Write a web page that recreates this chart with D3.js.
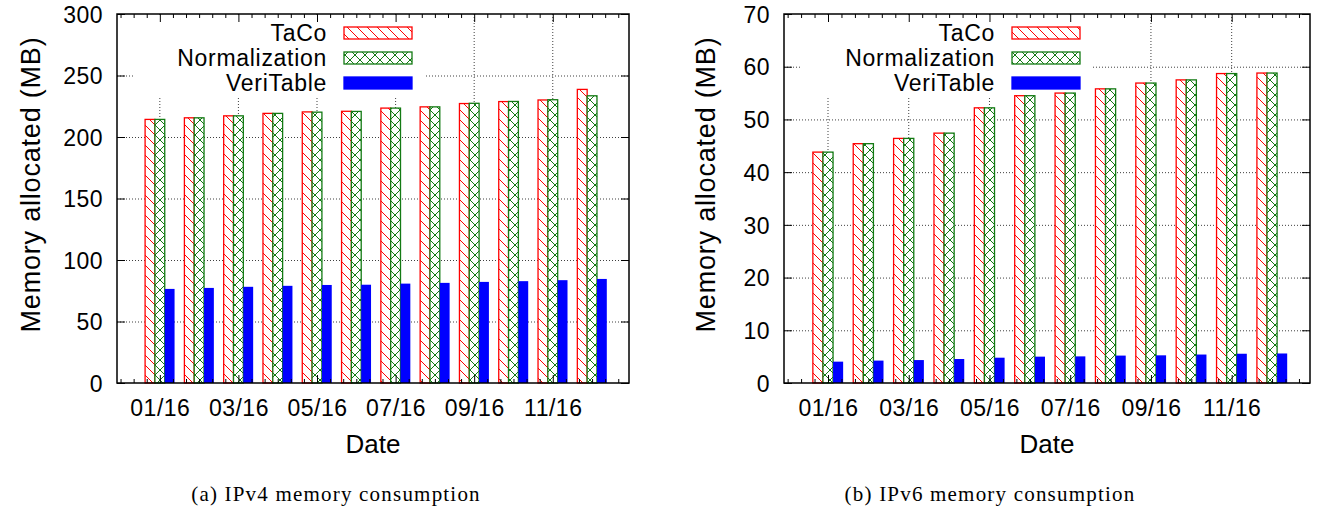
<!DOCTYPE html>
<html>
<head>
<meta charset="utf-8">
<script src="https://cdn.jsdelivr.net/npm/d3@7"></script>
<style>
  html, body { margin: 0; padding: 0; background: #fff; }
  svg text { fill: #000; }
</style>
</head>
<body>
<svg id="fig" width="1319" height="513"></svg>
<script>
// Months covered by the measurements
const months = ["01/16", "02/16", "03/16", "04/16", "05/16", "06/16",
                "07/16", "08/16", "09/16", "10/16", "11/16", "12/16"];
// Labelled months on the date axis (every other month)
const xTickLabels = ["01/16", "03/16", "05/16", "07/16", "09/16", "11/16"];
const seriesNames = ["TaCo", "Normalization", "VeriTable"];

// IPv4 memory allocated (MB)
const ipv4TaCo          = [214.3, 215.6, 217.2, 219.2, 220.4, 220.9, 223.5, 224.5, 227.2, 228.8, 230.1, 238.7];
const ipv4Normalization = [214.3, 215.6, 217.2, 219.2, 220.2, 220.8, 223.5, 224.5, 227.4, 228.9, 230.3, 233.5];
const ipv4VeriTable     = [76.5, 77.3, 78.2, 79.0, 79.7, 79.9, 80.8, 81.4, 82.2, 82.8, 83.6, 84.6];
const ipv4YTicks        = [0, 50, 100, 150, 200, 250, 300];

// IPv6 memory allocated (MB)
const ipv6TaCo          = [43.8, 45.4, 46.4, 47.4, 52.2, 54.5, 55.0, 55.8, 56.9, 57.5, 58.7, 58.8];
const ipv6Normalization = [43.8, 45.4, 46.4, 47.4, 52.2, 54.5, 55.0, 55.8, 56.9, 57.5, 58.7, 58.8];
const ipv6VeriTable     = [4.05, 4.25, 4.35, 4.55, 4.8, 5.0, 5.05, 5.2, 5.25, 5.4, 5.55, 5.6];
const ipv6YTicks        = [0, 10, 20, 30, 40, 50, 60, 70];

const captions = ["(a) IPv4 memory consumption", "(b) IPv6 memory consumption"];

const svg = d3.select("#fig");
const SANS = "'Liberation Sans', Arial, Helvetica, sans-serif";
const SERIF = "'Liberation Serif', 'Times New Roman', serif";

// Fill patterns: red back-diagonal hatch and green cross-hatch
const defs = svg.append("defs");
const hatch = defs.append("pattern").attr("id", "hatchRed")
  .attr("patternUnits", "userSpaceOnUse").attr("width", 10).attr("height", 10);
hatch.append("rect").attr("width", 10).attr("height", 10).attr("fill", "#fff");
hatch.append("path").attr("d", "M0,0L10,10M-1,9L1,11M9,-1L11,1")
  .attr("stroke", "#ff0000").attr("stroke-width", 1);
const cross = defs.append("pattern").attr("id", "crossGreen")
  .attr("patternUnits", "userSpaceOnUse").attr("width", 10).attr("height", 10);
cross.append("rect").attr("width", 10).attr("height", 10).attr("fill", "#fff");
cross.append("path").attr("d", "M0,0L10,10M0,10L10,0M-1,9L1,11M9,-1L11,1M-1,1L1,-1M9,11L11,9")
  .attr("stroke", "#137a13").attr("stroke-width", 1);

const styles = [
  { fill: "url(#hatchRed)", stroke: "#ff0000" },
  { fill: "url(#crossGreen)", stroke: "#137a13" },
  { fill: "#0000ff", stroke: "#0000ff" }
];

function drawPanel(cfg) {
  const { left, right, top, bottom, series, yTicks, caption, captionX, ylabelX, keyTextX } = cfg;
  const g = svg.append("g");
  const width = right - left;

  const x = d3.scaleLinear().domain([-1.09, 11.94]).range([left, right]);
  const y = d3.scaleLinear().domain([yTicks[0], yTicks[yTicks.length - 1]]).range([bottom, top]);
  const majorIdx = xTickLabels.map(l => months.indexOf(l));
  const minorIdx = d3.range(-3, 36).map(k => k / 3).filter(v => v > -1.09 && v < 11.94 && Math.abs(v - Math.round(v / 2) * 2) > 1e-6);

  // Dotted grid
  const grid = g.append("g").attr("stroke", "#000").attr("stroke-width", 1)
    .attr("stroke-dasharray", "1,2").attr("opacity", 0.75);
  grid.selectAll("line.h").data(yTicks.slice(1, -1)).join("line").attr("class", "h")
    .attr("x1", left).attr("x2", right).attr("y1", d => y(d) + 0.5).attr("y2", d => y(d) + 0.5);
  grid.selectAll("line.v").data(majorIdx).join("line").attr("class", "v")
    .attr("x1", d => x(d)).attr("x2", d => x(d)).attr("y1", top).attr("y2", bottom);

  // Key with opaque background
  const keyG = g.append("g");
  keyG.append("rect").attr("x", keyTextX - 194).attr("y", top + 1)
    .attr("width", 292).attr("height", 82).attr("fill", "#fff");
  seriesNames.forEach((name, k) => {
    const cy = top + 19 + 25 * k;
    keyG.append("text").attr("x", keyTextX).attr("y", cy).attr("dy", "0.36em")
      .attr("text-anchor", "end").attr("font-family", SANS).attr("font-size", 23)
      .attr("letter-spacing", 0.7).text(name);
    keyG.append("rect").attr("x", keyTextX + 17).attr("y", cy - 6)
      .attr("width", 68).attr("height", 12)
      .attr("fill", styles[k].fill).attr("stroke", styles[k].stroke).attr("stroke-width", 1.3);
  });

  // Clustered bars: three per month, each a quarter of a month wide
  const bw = 0.25;
  series.forEach((vals, k) => {
    g.append("g").selectAll("rect").data(vals).join("rect")
      .attr("x", (d, i) => x(i - 0.375 + k * bw))
      .attr("width", x(bw) - x(0))
      .attr("y", d => y(d))
      .attr("height", d => y(yTicks[0]) - y(d))
      .attr("fill", styles[k].fill)
      .attr("stroke", styles[k].stroke)
      .attr("stroke-width", k === 2 ? 0 : 1.3);
  });

  // Axes: labelled left / bottom, mirrored ticks on right / top
  const yAxis = g.append("g").attr("transform", `translate(${left},0)`)
    .call(d3.axisLeft(y).tickValues(yTicks).tickSize(-8).tickPadding(14));
  g.append("g").attr("transform", `translate(${right},0)`)
    .call(d3.axisRight(y).tickValues(yTicks).tickSize(-8).tickFormat(""));
  const xAxis = g.append("g").attr("transform", `translate(0,${bottom})`)
    .call(d3.axisBottom(x).tickValues(majorIdx).tickSize(-8).tickPadding(17).tickFormat(i => months[i]));
  g.append("g").attr("transform", `translate(0,${bottom})`)
    .call(d3.axisBottom(x).tickValues(minorIdx).tickSize(-4).tickFormat(""));
  g.append("g").attr("transform", `translate(0,${top})`)
    .call(d3.axisTop(x).tickValues(majorIdx).tickSize(-8).tickFormat(""));
  g.append("g").attr("transform", `translate(0,${top})`)
    .call(d3.axisTop(x).tickValues(minorIdx).tickSize(-4).tickFormat(""));
  g.selectAll(".domain").remove();
  g.selectAll(".tick line").attr("stroke", "#000").attr("stroke-width", 1);
  g.selectAll(".tick text").attr("font-family", SANS).attr("font-size", 23)
    .attr("letter-spacing", 0.5).attr("fill", "#000");
  yAxis.selectAll(".tick text").attr("dy", "0.36em");

  // Frame
  g.append("rect").attr("x", left).attr("y", top).attr("width", width).attr("height", bottom - top)
    .attr("fill", "none").attr("stroke", "#000").attr("stroke-width", 1.5);

  // Axis titles
  g.append("text").attr("transform", `translate(${ylabelX},${(top + bottom) / 2 - 14}) rotate(-90)`)
    .attr("text-anchor", "middle").attr("dy", "0.36em")
    .attr("font-family", SANS).attr("font-size", 27).attr("letter-spacing", 0.8)
    .text("Memory allocated (MB)");
  g.append("text").attr("x", (left + right) / 2).attr("y", 453)
    .attr("text-anchor", "middle").attr("font-family", SANS).attr("font-size", 26)
    .text("Date");

  // Caption
  g.append("text").attr("x", captionX).attr("y", 501)
    .attr("text-anchor", "middle").attr("font-family", SERIF).attr("font-size", 21)
    .attr("letter-spacing", 1.2)
    .text(caption);
}

drawPanel({
  left: 117, right: 629, top: 14, bottom: 383,
  series: [ipv4TaCo, ipv4Normalization, ipv4VeriTable],
  yTicks: ipv4YTicks, caption: captions[0], captionX: 336, ylabelX: 30, keyTextX: 327
});
drawPanel({
  left: 784, right: 1310, top: 14, bottom: 383,
  series: [ipv6TaCo, ipv6Normalization, ipv6VeriTable],
  yTicks: ipv6YTicks, caption: captions[1], captionX: 990, ylabelX: 705, keyTextX: 995
});
</script>
</body>
</html>
